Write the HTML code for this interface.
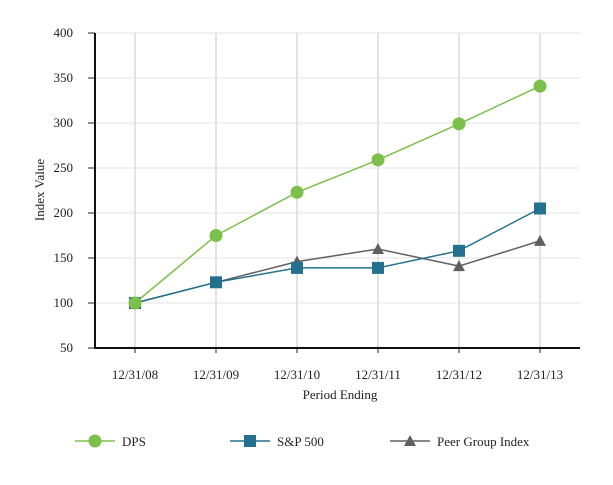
<!DOCTYPE html>
<html><head><meta charset="utf-8"><style>
body{margin:0;background:#fff;}
svg text{font-family:"Liberation Serif",serif;font-size:13px;fill:#222;}
</style></head><body>
<svg id="chart" width="613" height="480">
<g id="grid"></g>
<g id="axes"></g>
<g id="series"></g>
<g id="legend"></g>
</svg>
<script>
const categories=["12/31/08","12/31/09","12/31/10","12/31/11","12/31/12","12/31/13"];
const dps=[100,175,223,259,299,341];
const sp500=[100,123,139,139,158,205];
const peer=[100,123,146,160,141,169];
const yTicks=[50,100,150,200,250,300,350,400];
const NS="http://www.w3.org/2000/svg";
function mk(t,a,p){const e=document.createElementNS(NS,t);for(const k in a)e.setAttribute(k,a[k]);p.appendChild(e);return e;}
const x0=95,yTop=33,yBot=348;
function xs(i){return 135+i*81;}
function ys(v){return yBot-(v-50)/350*(yBot-yTop);}
const grid=document.getElementById('grid'),axes=document.getElementById('axes'),ser=document.getElementById('series'),leg=document.getElementById('legend');
yTicks.forEach(v=>{
 if(v>50){const l=mk('line',{x1:x0,x2:580,y1:ys(v),y2:ys(v),stroke:'#e3e3e3','stroke-width':1},grid);
 
 }
 const tk=mk('line',{x1:88,x2:x0,y1:ys(v),y2:ys(v),stroke:'#222'},axes);
 
 
 const t=mk('text',{x:73,y:ys(v)+4,'text-anchor':'end'},axes);t.textContent=v;
 
 
});
categories.forEach((c,i)=>{
 const l=mk('line',{x1:xs(i),x2:xs(i),y1:yTop,y2:yBot,stroke:'#e3e3e3','stroke-width':2},grid);
 
 
 const tk=mk('line',{x1:xs(i),x2:xs(i),y1:yBot,y2:yBot+5,stroke:'#222'},axes);
 
 
 const t=mk('text',{x:xs(i),y:yBot+31,'text-anchor':'middle'},axes);t.textContent=c;
 
 
});
let a=mk('line',{x1:x0,x2:x0,y1:yTop,y2:yBot+1,stroke:'#111','stroke-width':2},axes);


a=mk('line',{x1:x0-1,x2:580,y1:yBot,y2:yBot,stroke:'#111','stroke-width':2},axes);


let t=mk('text',{x:340,y:399,'text-anchor':'middle'},axes);t.textContent='Period Ending';


t=mk('text',{x:0,y:0,'text-anchor':'middle',transform:'translate(44,190) rotate(-90)'},axes);t.textContent='Index Value';


function marker(kind,x,y,color,p){
 let m;
 if(kind==='circle')m=mk('circle',{cx:x,cy:y,r:6.5,fill:color},p);
 else if(kind==='square')m=mk('rect',{x:x-6,y:y-6,width:12,height:12,fill:color},p);
 else m=mk('polygon',{points:`${x},${y-6} ${x+6},${y+5} ${x-6},${y+5}`,fill:color},p);
 return m;
}
const seriesDefs=[
 {name:'Peer Group Index',data:peer,color:'#606060',kind:'tri',lx:410},
 {name:'S&P 500',data:sp500,color:'#24718f',kind:'square',lx:250},
 {name:'DPS',data:dps,color:'#7cbf4a',kind:'circle',lx:95}
];
seriesDefs.forEach(s=>{
 const g=mk('g',{},ser);
 
 
 const pl=mk('polyline',{points:s.data.map((v,i)=>xs(i)+','+ys(v)).join(' '),fill:'none',stroke:s.color,'stroke-width':1.5},g);
 
 
 s.data.forEach((v,i)=>{const m=marker(s.kind,xs(i),ys(v),s.color,g);
  
  });
 const lg=mk('g',{},leg);
 
 
 mk('line',{x1:s.lx-20,x2:s.lx+20,y1:441,y2:441,stroke:s.color,'stroke-width':1.5},lg);
 marker(s.kind,s.lx,441,s.color,lg);
 const lt=mk('text',{x:s.lx+27,y:446},lg);lt.textContent=s.name;
 
 
});
</script>
</body></html>
